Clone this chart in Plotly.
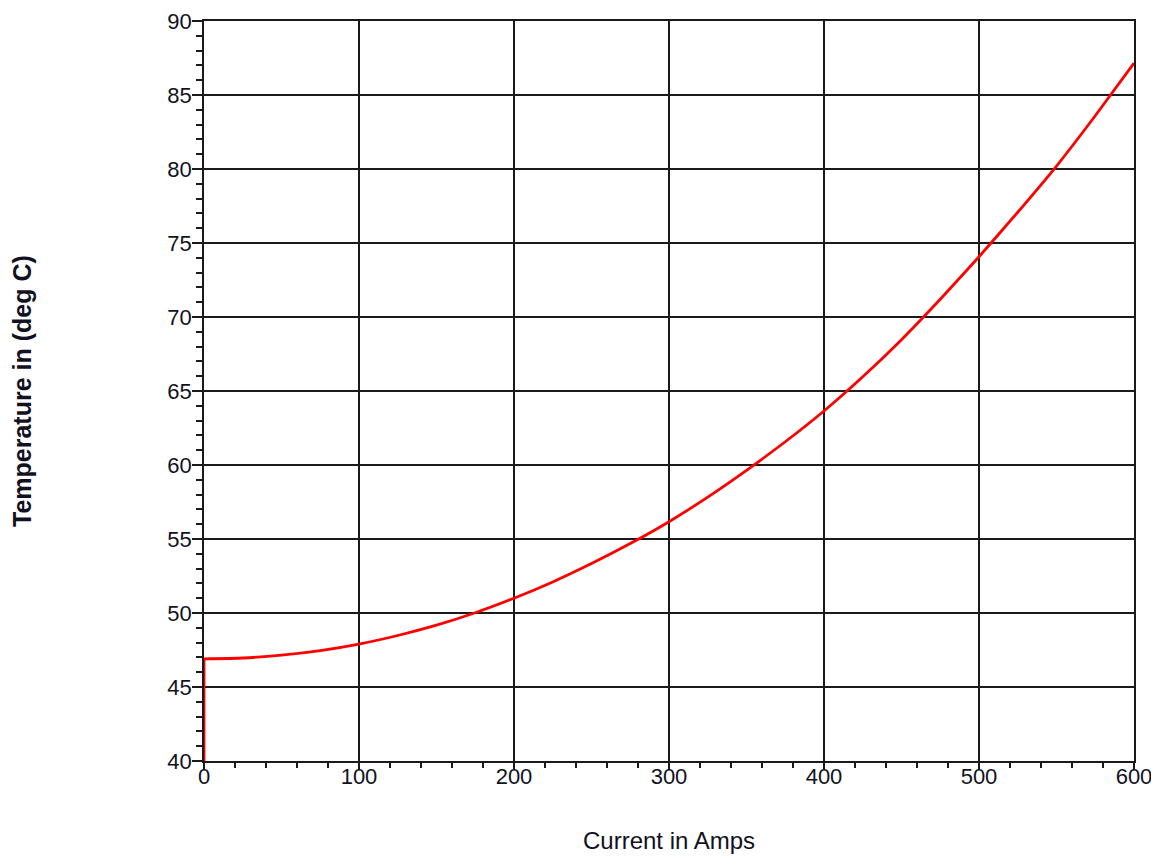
import plotly.graph_objects as go

current = [0, 0, 25, 50, 75, 100, 125, 150, 175, 200, 225, 250, 275, 300, 325, 350,
           375, 400, 425, 450, 475, 500, 525, 550, 575, 600]
temperature = [40.0, 46.9, 46.96, 47.15, 47.46, 47.9, 48.48, 49.18, 50.02, 51.0, 52.1,
               53.34, 54.69, 56.17, 57.83, 59.64, 61.57, 63.65, 65.96, 68.47, 71.2,
               74.07, 77.08, 80.2, 83.6, 87.15]

x_ticks = [0, 100, 200, 300, 400, 500, 600]
y_ticks = [40, 45, 50, 55, 60, 65, 70, 75, 80, 85, 90]

RED = "#ff0000"
fig = go.Figure()
# initial step at zero current (straight segment)
fig.add_trace(go.Scatter(x=current[:2], y=temperature[:2], mode="lines",
                         line=dict(color=RED, width=2.8), showlegend=False))
# heating curve
fig.add_trace(go.Scatter(x=current[1:], y=temperature[1:], mode="lines",
                         line=dict(color=RED, width=2.8, shape="spline", smoothing=0.5),
                         showlegend=False))

FONT = "Liberation Sans, Arial, sans-serif"
tickfont = dict(family=FONT, size=22, color="#111122")
GRID = "#1a1a1a"

# The page body has an 8px default margin; sizes/margins compensate for it.
fig.update_layout(
    width=1151, height=848,
    margin=dict(l=196, r=25, t=13, b=95, pad=0, autoexpand=False),
    paper_bgcolor="white", plot_bgcolor="white",
    xaxis=dict(range=[0, 600], tickvals=x_ticks, ticktext=[str(v) for v in x_ticks],
               showgrid=True, gridcolor=GRID, gridwidth=1.5, automargin=False,
               showline=True, linecolor=GRID, linewidth=1.6, mirror=True,
               ticks="outside", ticklen=7, tickcolor=GRID, tickwidth=1.5,
               minor=dict(dtick=20, ticks="outside", ticklen=5, tickcolor=GRID,
                          tickwidth=1.5, showgrid=False),
               tickfont=tickfont, zeroline=False, ticklabelstandoff=-12),
    yaxis=dict(range=[40, 90], tickvals=y_ticks, ticktext=[str(v) for v in y_ticks],
               showgrid=True, gridcolor=GRID, gridwidth=1.5, automargin=False,
               showline=True, linecolor=GRID, linewidth=1.6, mirror=True,
               ticks="outside", ticklen=10, tickcolor=GRID, tickwidth=1.5,
               minor=dict(dtick=1, ticks="outside", ticklen=6, tickcolor=GRID,
                          tickwidth=1.5, showgrid=False),
               tickfont=tickfont, zeroline=False, ticklabelstandoff=-4),
    annotations=[
        dict(text="Current in Amps", xref="paper", yref="paper", x=0.5, y=0,
             xanchor="center", yanchor="middle", yshift=-79, showarrow=False,
             font=dict(family=FONT, size=24, color="#111122")),
        dict(text="<b>Temperature in (deg C)</b>", xref="paper", yref="paper", x=0, y=0.5,
             xanchor="center", yanchor="middle", xshift=-182, textangle=-90, showarrow=False,
             font=dict(family=FONT, size=25, color="#111122")),
    ],
)

fig.write_html("out.html")
